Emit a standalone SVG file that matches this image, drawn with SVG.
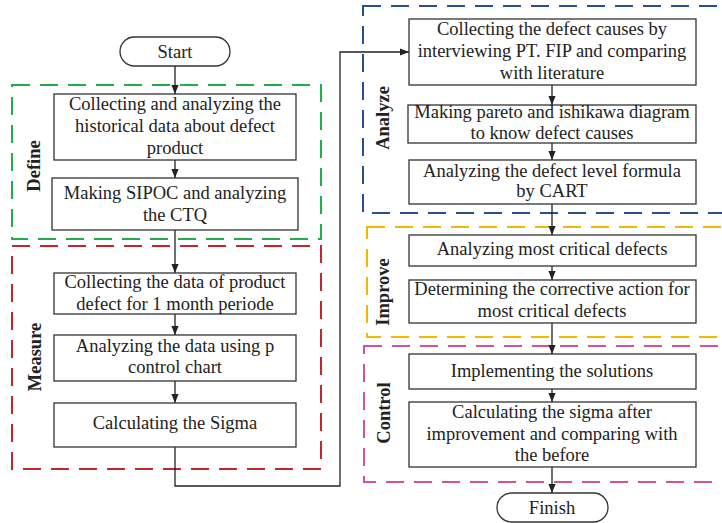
<svg xmlns="http://www.w3.org/2000/svg" width="722" height="523" viewBox="0 0 722 523">
<style>
.bg{fill:#ffffff}
.box{fill:#ffffff;stroke:#333333;stroke-width:1.3}
.term{fill:#ffffff;stroke:#333333;stroke-width:1.3}
.t{font-family:"Liberation Serif","Times New Roman",serif;font-size:18.5px;fill:#222222;text-anchor:middle}
.lbl{font-family:"Liberation Serif","Times New Roman",serif;font-size:18.5px;font-weight:bold;fill:#222222;text-anchor:middle}
.ph{fill:none;stroke-width:2;stroke-dasharray:18 10}
.con{fill:none;stroke:#222222;stroke-width:1.3;marker-end:url(#ah)}
.line{fill:none;stroke:#222222;stroke-width:1.3}
</style>
<defs>
<marker id="ah" viewBox="0 0 10 10" refX="10" refY="5" markerWidth="9" markerHeight="9" markerUnits="userSpaceOnUse" orient="auto">
<path d="M0,1 L10,5 L0,9 z" fill="#222222"/>
</marker>
</defs>
<rect class="bg" x="0" y="0" width="722" height="523"/>

<g id="phases">
<g id="phase-define"><rect class="ph" x="12" y="85" width="309" height="154" stroke="#1fae4b"/><text class="lbl" transform="translate(40,166) rotate(-90)">Define</text></g>
<g id="phase-measure"><rect class="ph" x="12" y="246" width="309" height="223" stroke="#c1272d"/><text class="lbl" transform="translate(41,357) rotate(-90)">Measure</text></g>
<g id="phase-analyze"><rect class="ph" x="363" y="6" width="400" height="207" stroke="#2a4f8f"/><text class="lbl" transform="translate(389,118) rotate(-90)">Analyze</text></g>
<g id="phase-improve"><rect class="ph" x="367" y="227" width="400" height="110" stroke="#f5b700"/><text class="lbl" transform="translate(389,292) rotate(-90)">Improve</text></g>
<g id="phase-control"><rect class="ph" x="364" y="346" width="400" height="136" stroke="#d4519b"/><text class="lbl" transform="translate(390,413) rotate(-90)">Control</text></g>
</g>

<g id="connectors">
<path class="con" d="M175,66 V94"/>
<path class="con" d="M175,160 V178"/>
<path class="con" d="M175,230 V273"/>
<path class="con" d="M175,314 V335"/>
<path class="con" d="M175,381 V403"/>
<path class="con" d="M175,447 V486 H340 V52 H409"/>
<path class="con" d="M552,85 V105"/>
<path class="con" d="M552,143 V160"/>
<path class="con" d="M552,204 V235"/>
<path class="con" d="M552,266 V280"/>
<path class="con" d="M552,323 V354"/>
<path class="con" d="M552,389 V402"/>
<path class="con" d="M552,467 V493"/>
</g>

<g id="start"><rect class="term" x="120" y="37" width="110" height="29" rx="14.5"/><text class="t" x="175" y="58">Start</text></g>

<g id="n1"><rect class="box" x="54" y="94" width="242" height="66"/>
<text class="t" x="175" y="110">Collecting and analyzing the</text>
<text class="t" x="175" y="132">historical data about defect</text>
<text class="t" x="175" y="154">product</text></g>

<g id="n2"><rect class="box" x="52" y="178" width="246" height="52"/>
<text class="t" x="175" y="199">Making SIPOC and analyzing</text>
<text class="t" x="175" y="221">the CTQ</text></g>

<g id="n3"><rect class="box" x="54" y="273" width="242" height="41"/>
<text class="t" x="175" y="288">Collecting the data of product</text>
<text class="t" x="175" y="310">defect for 1 month periode</text></g>

<g id="n4"><rect class="box" x="54" y="335" width="242" height="46"/>
<text class="t" x="175" y="352">Analyzing the data using p</text>
<text class="t" x="175" y="373">control chart</text></g>

<g id="n5"><rect class="box" x="54" y="403" width="242" height="44"/>
<text class="t" x="175" y="429">Calculating the Sigma</text></g>

<g id="a1"><rect class="box" x="409" y="19" width="287" height="66"/>
<text class="t" x="552" y="35">Collecting the defect causes by</text>
<text class="t" x="552" y="57">interviewing PT. FIP and comparing</text>
<text class="t" x="552" y="79">with literature</text></g>

<g id="a2"><rect class="box" x="408" y="105" width="288" height="38"/>
<text class="t" x="552" y="118">Making pareto and ishikawa diagram</text>
<text class="t" x="552" y="139">to know defect causes</text></g>

<g id="a3"><rect class="box" x="409" y="160" width="287" height="44"/>
<text class="t" x="552" y="177">Analyzing the defect level formula</text>
<text class="t" x="552" y="197">by CART</text></g>

<g id="i1"><rect class="box" x="409" y="235" width="287" height="31"/>
<text class="t" x="552" y="255">Analyzing most critical defects</text></g>

<g id="i2"><rect class="box" x="409" y="280" width="287" height="43"/>
<text class="t" x="552" y="295">Determining the corrective action for</text>
<text class="t" x="552" y="317">most critical defects</text></g>

<g id="c1"><rect class="box" x="409" y="354" width="287" height="35"/>
<text class="t" x="552" y="377">Implementing the solutions</text></g>

<g id="c2"><rect class="box" x="409" y="402" width="287" height="65"/>
<text class="t" x="552" y="418">Calculating the sigma after</text>
<text class="t" x="552" y="440">improvement and comparing with</text>
<text class="t" x="552" y="461">the before</text></g>

<g id="finish"><rect class="term" x="497" y="493" width="111" height="29" rx="14.5"/><text class="t" x="552" y="514">Finish</text></g>
</svg>
